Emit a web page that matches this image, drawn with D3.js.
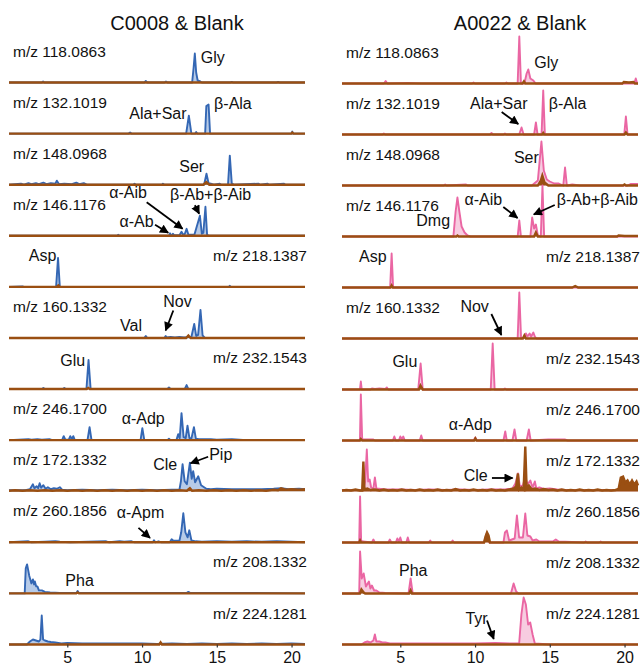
<!DOCTYPE html>
<html>
<head>
<meta charset="utf-8">
<script src="https://cdn.jsdelivr.net/npm/d3@7"></script>
<style>
  body { margin: 0; background: #fff; }
  text { font-family: "Liberation Sans", Arial, sans-serif; fill: #111; }
</style>
</head>
<body>
<script>
// column titles, ion labels and axis ticks
const titles = ['C0008 & Blank', 'A0022 & Blank'];
const mzLabels = ['m/z 118.0863', 'm/z 132.1019', 'm/z 148.0968', 'm/z 146.1176', 'm/z 218.1387', 'm/z 160.1332',
  'm/z 232.1543', 'm/z 246.1700', 'm/z 172.1332', 'm/z 260.1856', 'm/z 208.1332', 'm/z 224.1281'];
const mzSideLeft = ['start', 'start', 'start', 'start', 'end', 'start', 'end', 'start', 'start', 'start', 'end', 'end'];
const mzSideRight = ['start', 'start', 'start', 'start', 'end', 'start', 'end', 'end', 'end', 'end', 'end', 'end'];
const xTicks = [5, 10, 15, 20];

// retention time (min), relative intensity
const c0008Sample = [
  [[1.1,0],[3.3,0],[3.38,2],[3.46,0],[10.15,0],[10.25,3],[10.35,0],[11.5,0],[11.6,2],[11.7,0],[13.35,0],[13.45,30],[13.53,58],[13.62,20],[13.72,4],[13.9,2],[14.0,0],[15.9,0],[16.0,1],[16.1,0],[19.0,0],[19.1,1],[19.2,0],[20.9,0]],
  [[1.1,0],[9.1,0],[9.2,2],[9.3,0],[12.95,0],[13.13,36],[13.3,0],[13.55,0],[13.62,3],[13.7,0],[14.22,0],[14.3,55],[14.45,58],[14.55,0],[20.0,0],[20.05,4],[20.1,0],[20.9,0]],
  [[1.1,0],[1.9,2],[2.1,0],[2.4,3],[2.6,1],[2.9,3],[3.1,1],[3.4,4],[3.6,1],[3.9,3],[4.2,2],[4.3,8],[4.45,1],[4.8,2],[5.3,1],[5.6,4],[5.8,1],[6.1,3],[6.3,0],[9.4,0],[9.5,2],[9.6,0],[11.35,0],[11.4,2],[11.5,0],[14.15,0],[14.31,22],[14.45,3],[14.6,2],[14.8,0],[15.2,2],[15.3,0],[15.75,0],[15.87,58],[16.0,3],[16.15,0],[17.8,2],[17.9,0],[18.4,2],[18.5,0],[19.5,2],[19.6,0],[20.9,0]],
  [[1.1,0],[8.35,0],[8.4,2],[8.5,0],[11.8,0],[11.87,5],[11.95,0],[12.0,0],[12.07,4],[12.15,1],[12.5,1],[12.64,8],[12.75,2],[12.85,3],[12.98,14],[13.1,2],[13.5,2],[13.87,40],[14.0,4],[14.1,6],[14.24,58],[14.35,2],[14.5,0],[20.9,0]],
  [[1.1,0],[2.0,1],[2.1,0],[4.25,0],[4.38,58],[4.5,0],[15.8,0],[15.87,2],[15.95,0],[20.9,0]],
  [[1.1,0],[10.15,0],[10.25,4],[10.35,0],[11.5,0],[11.58,4],[11.65,1],[11.9,2],[12.2,1],[12.5,2],[12.8,1],[13.3,2],[13.49,28],[13.62,4],[13.75,6],[13.91,56],[14.05,5],[14.2,0],[20.9,0]],
  [[1.1,0],[3.3,0],[3.4,2],[3.5,0],[4.7,0],[4.8,2],[4.9,0],[6.28,0],[6.42,58],[6.56,0],[11.7,0],[11.8,3],[11.9,0],[12.85,0],[12.98,8],[13.1,0],[20.9,0]],
  [[1.1,0],[2.4,2],[2.6,1],[3.0,2],[3.3,1],[3.8,2],[4.0,0],[4.65,0],[4.76,8],[4.87,1],[5.1,1],[5.2,8],[5.3,2],[5.4,8],[5.5,0],[6.35,0],[6.49,26],[6.62,0],[9.9,0],[10.02,24],[10.15,0],[11.7,0],[11.8,3],[11.9,0],[12.3,0],[12.42,12],[12.52,4],[12.64,54],[12.78,6],[12.92,4],[13.04,29],[13.17,4],[13.3,3],[13.47,26],[13.6,3],[13.8,2],[14.2,2],[14.6,2],[15.0,1],[16.0,2],[16.5,1],[17,0],[20.9,0]],
  [[1.1,2],[2.2,2],[2.5,4],[2.7,14],[2.8,6],[2.95,10],[3.05,6],[3.15,16],[3.25,7],[3.4,12],[3.55,5],[3.7,8],[3.9,4],[4.1,6],[4.3,5],[4.5,8],[4.65,3],[5.0,2],[6,3],[7,2],[8,3],[9,2],[10,3],[11,2],[12,3],[12.5,3],[12.6,20],[12.71,54],[12.85,20],[13.0,14],[13.2,57],[13.32,25],[13.42,40],[13.55,18],[13.76,30],[13.95,12],[14.3,5],[14.6,4],[15,5],[16,4],[17,4],[18,4],[18.8,5],[19.3,6],[19.8,4],[20.5,5],[20.9,4]],
  [[1.1,0],[2.4,2],[2.6,0],[3.5,1],[4.2,2],[4.5,1],[5.2,0],[7.6,2],[7.8,0],[8.5,2],[8.8,1],[9.3,2],[9.5,0],[10.72,0],[10.8,4],[10.88,0],[11.1,2],[11.3,0],[11.85,0],[11.98,6],[12.1,3],[12.5,3],[12.62,20],[12.76,58],[12.9,20],[13.05,10],[13.16,24],[13.3,4],[13.6,2],[14.0,1],[15,2],[16,1],[17,2],[18,1],[19,2],[20.9,0]],
  [[1.1,0],[2.15,0],[2.22,50],[2.31,58],[2.45,36],[2.6,20],[2.7,28],[2.78,18],[2.83,24],[2.92,14],[3.0,14],[3.1,6],[3.3,6],[3.5,3],[3.85,2],[4.5,1],[5.5,1],[5.62,1],[5.69,5],[5.78,1],[7,1],[10,1],[13.0,1],[13.1,3],[13.2,1],[16,1],[20.9,0]],
  [[1.1,0],[2.3,0],[2.5,6],[2.7,10],[2.9,8],[3.1,6],[3.2,10],[3.29,58],[3.38,10],[3.5,8],[3.7,6],[3.9,5],[4.2,4],[4.6,2],[5,3],[6,2],[7,2],[8,2],[9,2],[10,2],[11,1],[12,2],[13,1],[14,2],[15,1],[16,2],[17,1],[18,2],[19,1],[20,2],[20.9,1]]
];
const c0008Blank = [
  [[1.1,0],[20.9,0]],
  [[1.1,0],[19.98,0],[20.05,2],[20.12,0],[20.9,0]],
  [[1.1,0],[14.1,0],[14.3,5],[14.5,0],[20.9,0]],
  [[1.1,0],[20.9,0]],
  [[1.1,0],[4.3,0],[4.4,3],[4.5,0],[20.9,0]],
  [[1.1,0],[12.95,0],[13.1,5],[13.25,0],[20.9,0]],
  [[1.1,0],[6.3,0],[6.4,2],[6.5,0],[20.9,0]],
  [[1.1,0],[20.9,0]],
  [[1.1,1],[1.5,2],[2,1],[2.5,2],[3,1],[3.5,2],[4,1],[4.5,2],[5,1],[5.5,2],[6,1],[6.5,2],[7,1],[7.5,2],[8,1],[8.5,2],[9,1],[9.5,2],[10,1],[10.5,2],[11,1],[11.5,2],[12,1],[12.5,2],[13.0,1],[13.2,6],[13.35,1],[13.8,2],[14.3,1],[14.8,2],[15.3,1],[15.8,2],[16.3,1],[16.8,2],[17.3,1],[17.8,2],[18.3,1],[18.8,3],[19.1,2],[19.3,6],[19.6,3],[20,4],[20.5,3],[20.9,4]],
  [[1.1,0],[20.9,0]],
  [[1.1,0],[5.6,0],[5.69,2],[5.78,0],[20.9,0]],
  [[1.1,0],[11.15,0],[11.24,4],[11.33,0],[20.9,0]]
];
const a0022Sample = [
  [[1.1,0],[3.9,0],[4.02,5],[4.14,0],[5.5,1],[6.4,0],[9.8,0],[9.9,2],[10,0],[12.0,0],[12.1,2],[12.2,0],[12.85,0],[12.96,94],[13.07,0],[13.3,0],[13.45,20],[13.56,28],[13.7,10],[13.9,6],[14.05,0],[20.65,0],[20.75,10],[20.85,0],[20.9,0]],
  [[1.1,0],[3.8,0],[3.9,2],[4.0,0],[11.0,0],[11.1,3],[11.2,0],[11.9,0],[12.0,2],[12.1,0],[12.95,0],[13.11,14],[13.25,0],[13.95,0],[14.07,24],[14.18,0],[14.45,0],[14.56,88],[14.67,0],[19.98,0],[20.09,36],[20.2,0],[20.9,0]],
  [[1.1,0],[7.9,0],[8.0,2],[8.1,0],[9.4,2],[9.5,0],[13.8,0],[14.2,10],[14.44,88],[14.6,30],[14.8,12],[15.0,8],[15.3,4],[15.6,4],[15.9,0],[16.02,36],[16.14,0],[16.5,2],[17,0],[20.2,0],[20.4,3],[20.9,3]],
  [[1.1,0],[8.55,0],[8.7,50],[8.82,78],[8.95,50],[9.1,20],[9.3,8],[9.5,2],[9.7,0],[12.85,0],[12.96,32],[13.07,0],[13.7,0],[13.82,38],[13.95,16],[14.07,24],[14.2,2],[14.4,0],[14.51,102],[14.62,0],[20.9,0]],
  [[1.1,0],[4.32,0],[4.42,68],[4.52,0],[20.9,0]],
  [[1.1,0],[12.85,0],[12.96,92],[13.08,0],[13.3,2],[13.4,10],[13.5,4],[13.65,10],[13.75,4],[13.9,12],[14.0,4],[14.1,0],[20.9,0]],
  [[1.1,0],[2.3,0],[2.36,16],[2.42,0],[3.0,0],[3.1,2],[3.3,1],[3.6,2],[4.0,1],[4.1,4],[4.2,0],[6.2,0],[6.36,52],[6.5,0],[11.05,0],[11.18,92],[11.31,0],[11.9,0],[12.0,2],[12.1,0],[20.9,0]],
  [[1.1,0],[2.3,0],[2.36,92],[2.45,2],[3.2,2],[3.3,0],[4.5,0],[4.6,8],[4.7,0],[4.9,0],[5.0,8],[5.1,2],[5.2,8],[5.3,0],[6.3,0],[6.4,10],[6.5,0],[9.9,0],[10.02,6],[10.12,0],[11.9,0],[12.02,18],[12.12,0],[12.5,0],[12.64,22],[12.76,0],[13.45,0],[13.6,22],[13.72,0],[14.9,2],[15.5,2],[16,2],[16.2,0],[20.9,0]],
  [[1.1,3],[2.5,3],[2.65,20],[2.76,84],[2.85,20],[2.95,24],[3.05,8],[3.2,6],[3.3,28],[3.4,6],[4,4],[5,4],[6,3],[7,4],[8,3],[9,4],[10,3],[11,4],[12,4],[12.5,6],[12.7,16],[12.87,36],[13.0,10],[13.2,12],[13.36,30],[13.5,14],[13.7,22],[13.85,8],[14.0,20],[14.1,6],[14.3,8],[14.6,5],[15,6],[15.5,4],[16,3],[17,3],[18,3],[19,3],[20.9,3]],
  [[1.1,0],[2.25,0],[2.31,92],[2.38,4],[2.5,2],[3.1,0],[3.2,6],[3.3,0],[4.2,0],[4.3,6],[4.4,0],[4.7,0],[4.8,8],[4.9,2],[5.0,10],[5.1,0],[5.4,0],[5.5,10],[5.6,0],[6.9,0],[7.0,4],[7.1,0],[8.4,0],[8.5,4],[8.6,0],[10.6,0],[10.8,20],[10.95,0],[11.9,0],[12.0,20],[12.13,24],[12.28,4],[12.65,8],[12.8,54],[12.95,10],[13.2,10],[13.36,58],[13.5,14],[13.7,12],[13.85,4],[14.1,6],[14.3,2],[15.2,2],[15.4,6],[15.6,2],[17.3,0],[17.4,2],[17.5,0],[18.3,0],[18.4,2],[18.5,0],[20.9,0]],
  [[1.1,0],[2.25,0],[2.31,84],[2.42,30],[2.55,40],[2.7,14],[2.9,24],[3.0,10],[3.1,16],[3.25,6],[3.4,6],[3.6,2],[4.0,1],[5.55,0],[5.69,30],[5.83,0],[12.4,0],[12.58,20],[12.75,4],[12.9,0],[20.9,0]],
  [[1.1,0],[2.4,0],[2.6,4],[2.8,6],[3.0,4],[3.2,8],[3.3,20],[3.4,6],[3.6,6],[3.8,4],[4.0,4],[4.3,2],[5,2],[6,2],[8,2],[10,2],[11.36,3],[12.5,2],[12.95,2],[13.1,60],[13.25,94],[13.4,80],[13.55,40],[13.69,44],[13.85,20],[14.0,2],[15,0],[20.9,0]]
];
const a0022Blank = [
  [[1.1,0],[13.18,0],[13.27,4],[13.36,0],[19.85,0],[19.95,3],[20.3,2],[20.6,3],[20.7,0],[20.9,0]],
  [[1.1,0],[14.5,0],[14.56,3],[14.62,0],[20.0,0],[20.09,4],[20.2,0],[20.9,0]],
  [[1.1,0],[14.2,0],[14.4,10],[14.5,20],[14.65,6],[14.9,0],[19.9,0],[20.0,2],[20.1,0],[20.9,0]],
  [[1.1,0],[8.75,0],[8.82,2],[8.9,0],[13.95,0],[14.07,8],[14.2,0],[19.5,0],[19.6,2],[20,1],[20.9,1]],
  [[1.1,0],[4.35,0],[4.42,4],[4.5,0],[16.5,0],[16.7,3],[16.9,0],[20.9,0]],
  [[1.1,0],[13.2,0],[13.3,6],[13.4,0],[20.9,0]],
  [[1.1,0],[6.25,0],[6.35,8],[6.5,0],[20.9,0]],
  [[1.1,0],[2.3,0],[2.36,3],[2.45,0],[9.95,0],[10.02,4],[10.1,0],[20.9,0]],
  [[1.1,2],[1.4,3],[1.7,2],[2.0,4],[2.3,2],[2.45,2],[2.53,60],[2.6,4],[2.8,6],[3.0,3],[3.3,4],[3.6,2],[3.9,4],[4.2,2],[4.5,3],[4.8,2],[5.1,4],[5.4,2],[5.7,3],[6.0,2],[6.3,4],[6.6,2],[6.9,3],[7.2,2],[7.5,4],[7.8,2],[8.1,3],[8.4,2],[8.7,5],[9.0,2],[9.3,3],[9.6,2],[9.9,4],[10.2,2],[10.5,3],[10.8,2],[11.1,4],[11.4,2],[11.7,3],[12.0,2],[12.3,4],[12.6,6],[12.75,10],[12.87,36],[12.95,4],[13.1,8],[13.25,4],[13.36,90],[13.45,6],[13.6,12],[13.8,4],[14.0,6],[14.3,3],[14.6,5],[14.9,3],[15.2,4],[15.5,2],[15.8,4],[16.1,2],[16.4,3],[16.7,2],[17.0,4],[17.3,2],[17.6,3],[17.9,2],[18.2,4],[18.5,2],[18.8,3],[19.1,2],[19.4,3],[19.6,5],[19.75,28],[19.9,30],[20.05,18],[20.2,22],[20.35,14],[20.5,22],[20.65,14],[20.8,20],[20.9,12]],
  [[1.1,0],[2.25,0],[2.31,4],[2.38,0],[10.6,0],[10.7,12],[10.8,20],[10.9,14],[11.0,0],[20.9,0]],
  [[1.1,0],[2.3,0],[2.4,8],[2.55,2],[2.65,0],[5.6,0],[5.69,6],[5.78,0],[20.9,0]],
  [[1.1,0],[20.9,0]]
];

// annotations: [panel, text, time, intensity, anchor]
const c0008Notes = [
  [0, 'Gly', 13.93, 40, 'start'], [1, 'Ala+Sar', 12.98, 30, 'end'], [1, 'β-Ala', 14.82, 50, 'start'],
  [2, 'Ser', 12.49, 25, 'start'], [3, 'α-Aib', 7.8, 75, 'start'], [3, 'α-Ab', 8.49, 17, 'start'],
  [3, 'β-Ab+β-Aib', 11.87, 71, 'start'], [4, 'Asp', 2.42, 51, 'start'], [5, 'Nov', 11.42, 61, 'start'],
  [5, 'Val', 8.53, 14, 'start'], [6, 'Glu', 4.53, 46, 'start'], [7, 'α-Adp', 8.64, 33, 'start'],
  [8, 'Cle', 10.75, 43, 'start'], [8, 'Pip', 14.49, 63, 'start'], [9, 'α-Apm', 8.31, 49, 'start'],
  [10, 'Pha', 4.87, 14, 'start']
];
const c0008Arrows = [
  [3, 10.87, 22, 11.75, 6], [3, 10.31, 67, 12.71, 14], [3, 13.53, 61, 13.82, 44],
  [5, 12.09, 55, 11.58, 15], [8, 14.42, 69, 13.25, 56], [9, 9.76, 29, 10.53, 9]
];
const a0022Notes = [
  [0, 'Gly', 13.96, 31, 'start'], [1, 'Ala+Sar', 9.67, 51, 'start'], [1, 'β-Ala', 14.93, 51, 'start'],
  [2, 'Ser', 12.6, 45, 'start'], [3, 'α-Aib', 9.29, 63, 'start'], [3, 'Dmg', 8.33, 22, 'end'],
  [3, 'β-Ab+β-Aib', 15.47, 63, 'start'], [4, 'Asp', 2.24, 51, 'start'], [5, 'Nov', 9.02, 54, 'start'],
  [6, 'Glu', 4.47, 46, 'start'], [7, 'α-Adp', 8.24, 21, 'start'], [8, 'Cle', 9.24, 21, 'start'],
  [10, 'Pha', 4.91, 36, 'start'], [11, 'Tyr', 9.36, 41, 'start']
];
const a0022Arrows = [
  [1, 11.78, 45, 12.89, 21], [3, 11.89, 59, 12.84, 37], [3, 15.33, 63, 13.93, 44],
  [5, 11.09, 49, 11.76, 7], [8, 11.13, 27, 12.51, 27], [11, 10.8, 48, 11.25, 11]
];

const svgDims = { width: 644, height: 666 };
const brown = '#9a4f12';

const columns = [
  { title: titles[0], sample: c0008Sample, blank: c0008Blank, notes: c0008Notes, arrows: c0008Arrows,
    mzSide: mzSideLeft, range: [9, 305], line: '#3467b4', fill: '#aac2e4', titleX: 177, firstBase: 82.5 },
  { title: titles[1], sample: a0022Sample, blank: a0022Blank, notes: a0022Notes, arrows: a0022Arrows,
    mzSide: mzSideRight, range: [342, 638], line: '#ea66a3', fill: '#f6c3da', titleX: 520, firstBase: 83.5 }
];

const svg = d3.select('body').append('svg')
  .attr('width', svgDims.width)
  .attr('height', svgDims.height);

svg.append('defs').append('marker')
  .attr('id', 'arrow')
  .attr('viewBox', '0 0 10 10')
  .attr('refX', 9)
  .attr('refY', 5)
  .attr('markerUnits', 'userSpaceOnUse')
  .attr('markerWidth', 10)
  .attr('markerHeight', 9)
  .attr('orient', 'auto')
  .append('path')
  .attr('d', 'M0,0 L10,5 L0,10 z')
  .attr('fill', '#000');

// intensity -> pixels above baseline
const y = d3.scaleLinear().domain([0, 100]).range([0, -50]);

columns.forEach(col => {
  const x = d3.scaleLinear().domain([1.1, 20.9]).range(col.range);
  const base = d3.scaleLinear().domain([0, 11]).range([col.firstBase, 644.5]);

  const area = d3.area().x(d => x(d[0])).y0(0).y1(d => y(d[1]));
  const line = d3.line().x(d => x(d[0])).y(d => y(d[1]));

  svg.append('text')
    .attr('x', col.titleX)
    .attr('y', 30)
    .attr('text-anchor', 'middle')
    .style('font-size', '20px')
    .text(col.title);

  col.sample.forEach((trace, i) => {
    const g = svg.append('g').attr('transform', `translate(0,${base(i)})`);

    g.append('path').datum(trace)
      .attr('d', area)
      .attr('fill', col.fill)
      .attr('fill-opacity', 0.85);
    g.append('path').datum(trace)
      .attr('d', line)
      .attr('fill', 'none')
      .attr('stroke', col.line)
      .attr('stroke-width', 1.9)
      .attr('stroke-linejoin', 'round');

    // blank drawn on top
    g.append('path').datum(col.blank[i])
      .attr('d', area)
      .attr('fill', brown);
    g.append('path').datum(col.blank[i])
      .attr('d', line)
      .attr('fill', 'none')
      .attr('stroke', brown)
      .attr('stroke-width', 2.4);

    const side = col.mzSide[i];
    g.append('text')
      .attr('x', side === 'start' ? col.range[0] + 4 : col.range[1] + 2)
      .attr('y', -26)
      .attr('text-anchor', side)
      .style('font-size', '15.5px')
      .text(mzLabels[i]);

    if (i === col.sample.length - 1) {
      const xAxis = d3.axisBottom(x).tickValues(xTicks).tickSize(3).tickPadding(4);
      const axisG = g.append('g').call(xAxis);
      axisG.select('.domain').remove();
      axisG.selectAll('line').attr('stroke', '#333').attr('stroke-width', 1.2);
      axisG.selectAll('text')
        .style('font-size', '16px')
        .style('font-family', '"Liberation Sans", Arial, sans-serif')
        .attr('fill', '#111');
    }
  });

  col.notes.forEach(n => {
    svg.append('text')
      .attr('x', x(n[2]))
      .attr('y', base(n[0]) + y(n[3]))
      .attr('text-anchor', n[4])
      .style('font-size', '16px')
      .text(n[1]);
  });

  col.arrows.forEach(a => {
    svg.append('line')
      .attr('x1', x(a[1]))
      .attr('y1', base(a[0]) + y(a[2]))
      .attr('x2', x(a[3]))
      .attr('y2', base(a[0]) + y(a[4]))
      .attr('stroke', '#000')
      .attr('stroke-width', 1.8)
      .attr('marker-end', 'url(#arrow)');
  });
});
</script>
</body>
</html>
